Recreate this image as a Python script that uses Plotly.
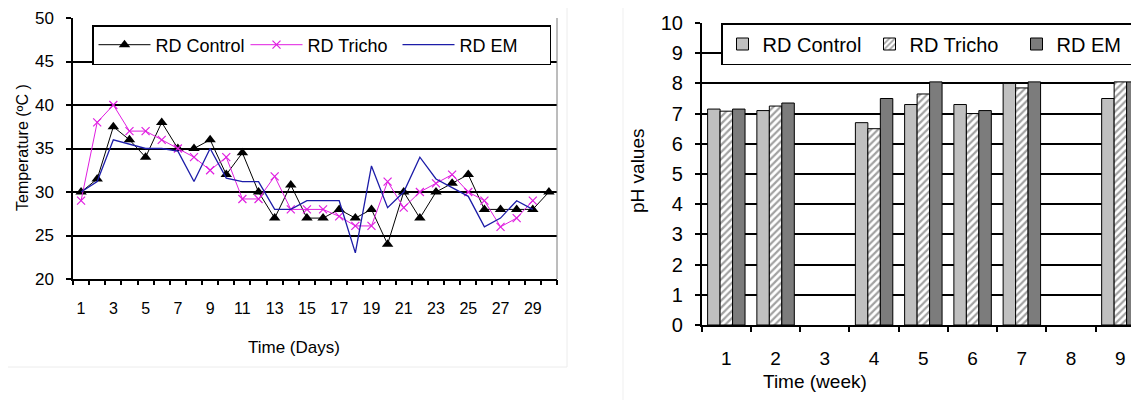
import plotly.graph_objects as go

# ---------------- data ----------------
days = list(range(1, 31))
day_labels = [str(d) for d in range(1, 30, 2)]
temp_control = [30, 31.5, 37.5, 36, 34, 38, 35, 35, 36, 32,
                34.5, 30, 27, 30.8, 27, 27, 28, 27, 28, 24,
                30, 27, 30, 31, 32, 28, 28, 28, 28, 30]
temp_tricho = [29, 38, 40, 37, 37, 36, 35, 34, 32.5, 34,
               29.2, 29.2, 31.8, 28, 28, 28, 27.2, 26.1, 26.1, 31.2,
               28.2, 30, 31, 32, 30, 29, 26, 27, 29, None]
temp_em = [30, 31.2, 36, 35.5, 35, 35, 34.7, 31.2, 35, 31.6,
           31.2, 31.2, 28, 28, 29, 29, 29, 23, 33, 28.2,
           30, 34, 31.5, 30.5, 29.5, 26, 27, 29, 28, None]

weeks = list(range(1, 10))
week_labels = [str(w) for w in weeks]
ph_control = [7.15, 7.1, None, 6.7, 7.3, 7.3, 8.0, None, 7.5]
ph_tricho = [7.08, 7.25, None, 6.5, 7.65, 7.0, 7.85, None, 8.05]
ph_em = [7.15, 7.35, None, 7.5, 8.05, 7.1, 8.05, None, 8.05]

# ---------------- layout helpers ----------------
W, H = 1139, 407
OFF = 8  # page body margin offset
FONT = "Liberation Sans, Arial, sans-serif"


def fx(p):
    return (p - OFF) / W


def fy(p):
    return 1 - (p - OFF) / H


fig = go.Figure()

# ---- left: temperature lines ----
fig.add_trace(go.Scatter(
    x=days, y=temp_control, name="RD Control", mode="lines+markers",
    line=dict(color="black", width=1),
    marker=dict(symbol="triangle-up", size=10, color="black"),
    xaxis="x", yaxis="y", legend="legend"))
fig.add_trace(go.Scatter(
    x=days, y=temp_tricho, name="RD Tricho", mode="lines+markers",
    line=dict(color="#e01ee0", width=1),
    marker=dict(symbol="x-thin", size=8, line=dict(color="#e01ee0", width=1.2)),
    xaxis="x", yaxis="y", legend="legend"))
fig.add_trace(go.Scatter(
    x=days, y=temp_em, name="RD EM", mode="lines",
    line=dict(color="#1c1ca8", width=1.3),
    xaxis="x", yaxis="y", legend="legend"))
# helper (invisible) trace for the boundary-tick axis
fig.add_trace(go.Scatter(x=[], y=[], xaxis="x3", yaxis="y", showlegend=False,
                         hoverinfo="skip"))

# ---- right: pH bars ----
fig.add_trace(go.Bar(
    x=weeks, y=ph_control, name="RD Control",
    marker=dict(color="#c0c0c0", line=dict(color="black", width=1)),
    xaxis="x2", yaxis="y2", legend="legend2"))
fig.add_trace(go.Bar(
    x=weeks, y=ph_tricho, name="RD Tricho",
    marker=dict(color="white", line=dict(color="black", width=1),
                pattern=dict(shape="/", fgcolor="#444444", bgcolor="white",
                             size=5, solidity=0.45)),
    xaxis="x2", yaxis="y2", legend="legend2"))
fig.add_trace(go.Bar(
    x=weeks, y=ph_em, name="RD EM",
    marker=dict(color="#7c7c7c", line=dict(color="black", width=1)),
    xaxis="x2", yaxis="y2", legend="legend2"))
fig.add_trace(go.Scatter(x=[], y=[], xaxis="x4", yaxis="y2", showlegend=False,
                         hoverinfo="skip"))

axis_common = dict(showline=True, linecolor="black", linewidth=1.5,
                   tickcolor="black", tickwidth=1.5, zeroline=False,
                   automargin=False)

fig.update_layout(
    width=W, height=H,
    margin=dict(l=0, r=0, t=0, b=0, pad=0, autoexpand=False),
    paper_bgcolor="white", plot_bgcolor="white",
    font=dict(family=FONT, color="black", size=17),
    barmode="group", bargap=0.24, bargroupgap=0,
    xaxis=dict(domain=[fx(73), fx(557)], range=[0.5, 30.5],
               tickmode="array", tickvals=list(range(1, 30, 2)), ticktext=day_labels,
               ticks="", showgrid=False, anchor="y",
               tickfont=dict(size=16), ticklabelstandoff=14, **axis_common),
    xaxis3=dict(overlaying="x", range=[0.5, 30.5], anchor="y",
                tickmode="array", tickvals=[d - 0.5 for d in days] + [30.5],
                ticks="outside", ticklen=5, tickwidth=1.5, tickcolor="black",
                showticklabels=False, showline=False, showgrid=False, zeroline=False,
                automargin=False),
    yaxis=dict(domain=[fy(279), fy(18)], range=[20, 50], dtick=5, tick0=20,
               ticks="outside", ticklen=5, showgrid=True, gridcolor="black",
               gridwidth=1.5, anchor="x", tickfont=dict(size=17),
               ticklabelstandoff=9, **axis_common),
    xaxis2=dict(domain=[fx(701.7), fx(1145)], range=[0.5, 9.5],
                tickmode="array", tickvals=weeks, ticktext=week_labels,
                ticks="", showgrid=False, anchor="y2",
                tickfont=dict(size=19), ticklabelstandoff=15, **axis_common),
    xaxis4=dict(overlaying="x2", range=[0.5, 9.5], anchor="y2",
                tickmode="array", tickvals=[w - 0.5 for w in weeks] + [9.5],
                ticks="outside", ticklen=6, tickwidth=1.5, tickcolor="black",
                showticklabels=False, showline=False, showgrid=False, zeroline=False,
                automargin=False),
    yaxis2=dict(domain=[fy(325), fy(23)], range=[0, 10], dtick=1, tick0=0,
                ticks="outside", ticklen=5, showgrid=True, gridcolor="black",
                gridwidth=1.5, anchor="x2", tickfont=dict(size=20),
                ticklabelstandoff=8, **axis_common),
    legend=dict(orientation="h", x=fx(92), y=fy(25), xanchor="left", yanchor="top",
                bgcolor="white", bordercolor="black", borderwidth=1.5,
                font=dict(size=18), entrywidth=85, itemwidth=52),
    legend2=dict(orientation="h", x=fx(721), y=fy(23), xanchor="left", yanchor="top",
                 bgcolor="white", bordercolor="black", borderwidth=1.5,
                 font=dict(size=20), entrywidth=102, itemwidth=30),
    showlegend=True,
)

# plot-area right border of the temperature chart
fig.add_shape(type="line", xref="x domain", yref="y domain", x0=1, x1=1, y0=0, y1=1,
              line=dict(color="#7a7a7a", width=1))
# faint chart-area borders
fig.add_shape(type="rect", xref="paper", yref="paper",
              x0=fx(3), x1=fx(567), y0=fy(367), y1=fy(3),
              line=dict(color="#ececec", width=1), layer="below")
fig.add_shape(type="line", xref="paper", yref="paper",
              x0=fx(623), x1=fx(623), y0=fy(400), y1=fy(0),
              line=dict(color="#efefef", width=1), layer="below")

# axis titles
ann = dict(xref="paper", yref="paper", showarrow=False,
           xanchor="center", yanchor="middle")
fig.add_annotation(text="Time (Days)", x=fx(294), y=fy(347),
                   font=dict(size=17), **ann)
fig.add_annotation(text="Temperature (ºC )", x=fx(23), y=fy(148), textangle=-90,
                   font=dict(size=16), **ann)
fig.add_annotation(text="Time (week)", x=fx(815), y=fy(381),
                   font=dict(size=19), **ann)
fig.add_annotation(text="pH values", x=fx(638), y=fy(171), textangle=-90,
                   font=dict(size=19), **ann)

fig.write_html("out.html")
